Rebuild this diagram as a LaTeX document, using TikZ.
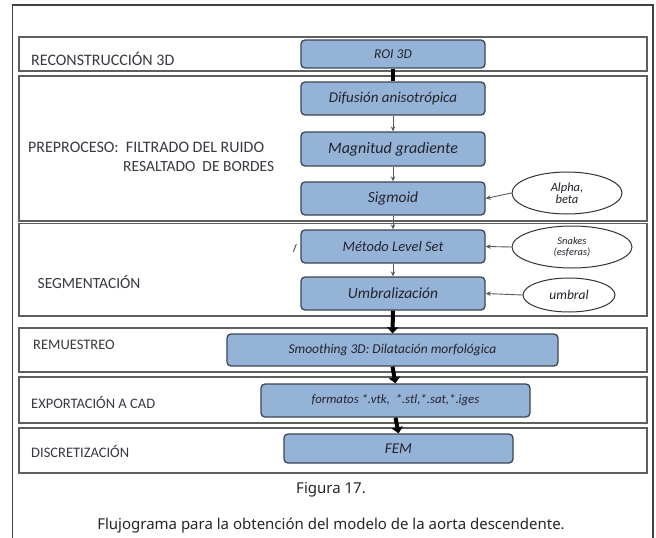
\documentclass[tikz,border=0pt]{standalone}
\usepackage{fontspec}
\setmainfont{Carlito}
\newfontfamily\capfont{Noto Sans}
\usetikzlibrary{shapes.geometric,arrows.meta}
\definecolor{boxfill}{RGB}{149,179,215}
\definecolor{boxline}{RGB}{60,70,85}
\definecolor{bandline}{RGB}{95,95,95}
\definecolor{txt}{RGB}{35,35,45}
\newcommand{\fs}[1]{\fontsize{#1}{#1}\selectfont}
\tikzset{
  band/.style={draw=bandline, line width=1.5pt},
  stagebox/.style={draw=boxline, fill=boxfill, line width=1.3pt, rounded corners=4pt,
    inner sep=0pt, font=\fs{15}\itshape, text=txt},
  lbl/.style={anchor=west, inner sep=0pt, font=\fs{14.5}, text=txt!90},
  param/.style={draw=black!80, ellipse, line width=1pt, inner sep=0pt, align=center,
    text=txt, font=\fs{12.5}\itshape},
  thinarrow/.style={draw=black!65, line width=0.9pt, -{Stealth[length=5pt,width=4.5pt]}},
  thickarrow/.style={draw=black, line width=4pt, -{Triangle[length=6pt,width=11pt]}},
  thickline/.style={draw=black, line width=4pt},
  caption/.style={inner sep=0pt, font=\capfont\fs{15}, text=black!85}
}
\begin{document}
\begin{tikzpicture}[x=1pt,y=-1pt]
\useasboundingbox (0,0) rectangle (656,538);
\fill[white] (0,0) rectangle (656,538);
% outer frame (open at the bottom)
\draw[draw=black!75, line width=1.3pt] (12.7,538) -- (12.7,5) -- (653,5) -- (653,538);
% bands
\draw[band] (19,37) rectangle (647,71);
\draw[band] (19,76) rectangle (647,221);
\draw[band] (19,223.5) rectangle (647,316);
\draw[band] (19,328) rectangle (647,372);
\draw[band] (19,377) rectangle (647,423);
\draw[band] (19,428) rectangle (647,473);
% labels
\node[lbl, font=\fs{16}] (l1) at (31,59) {RECONSTRUCCIÓN 3D};
\node[lbl, font=\fs{16}] (l2) at (28,147) {PREPROCESO:\ \ FILTRADO DEL RUIDO};
\node[lbl, font=\fs{15.5}] (l2b) at (123,167) {RESALTADO\ \ DE BORDES};
\node[lbl, font=\fs{15.5}] (l3) at (37.5,282) {SEGMENTACIÓN};
\node[lbl] (l4) at (33,345) {REMUESTREO};
\node[lbl] (l5) at (31,402) {EXPORTACIÓN A CAD};
\node[lbl] (l6) at (31,451) {DISCRETIZACIÓN};
% boxes
\node[stagebox, font=\fs{13.5}\itshape, minimum width=184pt, minimum height=28pt] (roi) at (393,54) {ROI 3D};
\node[stagebox, minimum width=184pt, minimum height=33pt] (dif) at (393,98.5) {Difusión anisotrópica};
\node[stagebox, font=\fs{16}\itshape, minimum width=184pt, minimum height=34pt] (mag) at (393,149) {Magnitud gradiente};
\node[stagebox, font=\fs{15.5}\itshape, minimum width=184pt, minimum height=33pt] (sig) at (393,198.5) {Sigmoid};
\node[stagebox, font=\fs{14.5}\itshape, minimum width=184pt, minimum height=33pt] (met) at (393,246.5) {Método Level Set};
\node[stagebox, font=\fs{15.5}\itshape, minimum width=184pt, minimum height=33pt] (umb) at (393,293.5) {Umbralización};
\node[stagebox, font=\fs{13.5}\itshape, minimum width=331pt, minimum height=32pt] (smo) at (392.5,350) {Smoothing 3D: Dilatación morfológica};
\node[stagebox, font=\fs{12.8}\itshape, minimum width=269pt, minimum height=33pt] (fmt) at (395.5,400.5) {formatos *.vtk,\ \ *.stl,*.sat,*.iges};
\node[stagebox, minimum width=229pt, minimum height=29pt] (fem) at (398.5,448.5) {FEM};
% parameter ellipses
\node[param, minimum width=110pt, minimum height=42pt] (alp) at (567,193) {Alpha,\\beta};
\node[param, minimum width=120pt, minimum height=42pt, font=\fs{10.5}\itshape] (sna) at (572,247) {Snakes\\(esferas)};
\node[param, minimum width=92pt, minimum height=34pt, font=\fs{13.5}\itshape] (thr) at (569,295) {umbral};
% connectors
\draw[thickline] (roi.south) -- (dif.north);
\draw[thinarrow] (dif.south) -- (mag.north);
\draw[thinarrow] (mag.south) -- (sig.north);
\draw[thinarrow] (sig.south) -- (met.north);
\draw[thinarrow] (met.south) -- (umb.north);
\draw[thickarrow] (umb.south) -- (smo.north);
\draw[thickarrow] (smo.south) -- (fmt.north);
\draw[thickarrow] (fmt.south) -- (fem.north);
\draw[thinarrow] (alp.west) -- (sig.east);
\draw[thinarrow] (sna.west) -- (met.east);
\draw[thinarrow] (thr.west) -- (umb.east);
% small stray mark at the left of Método Level Set
\coordinate (m1) at ([xshift=-7pt,yshift=-5.5pt]met.west);
\coordinate (m2) at ([xshift=-4pt,yshift=2.5pt]met.west);
\draw[draw=black!70, line width=0.9pt] (m1) -- (m2);
% caption
\node[caption] (fig) at (331,490) {Figura 17.};
\node[caption] (cap) at (331,526) {Flujograma para la obtención del modelo de la aorta descendente.};
\end{tikzpicture}
\end{document}
